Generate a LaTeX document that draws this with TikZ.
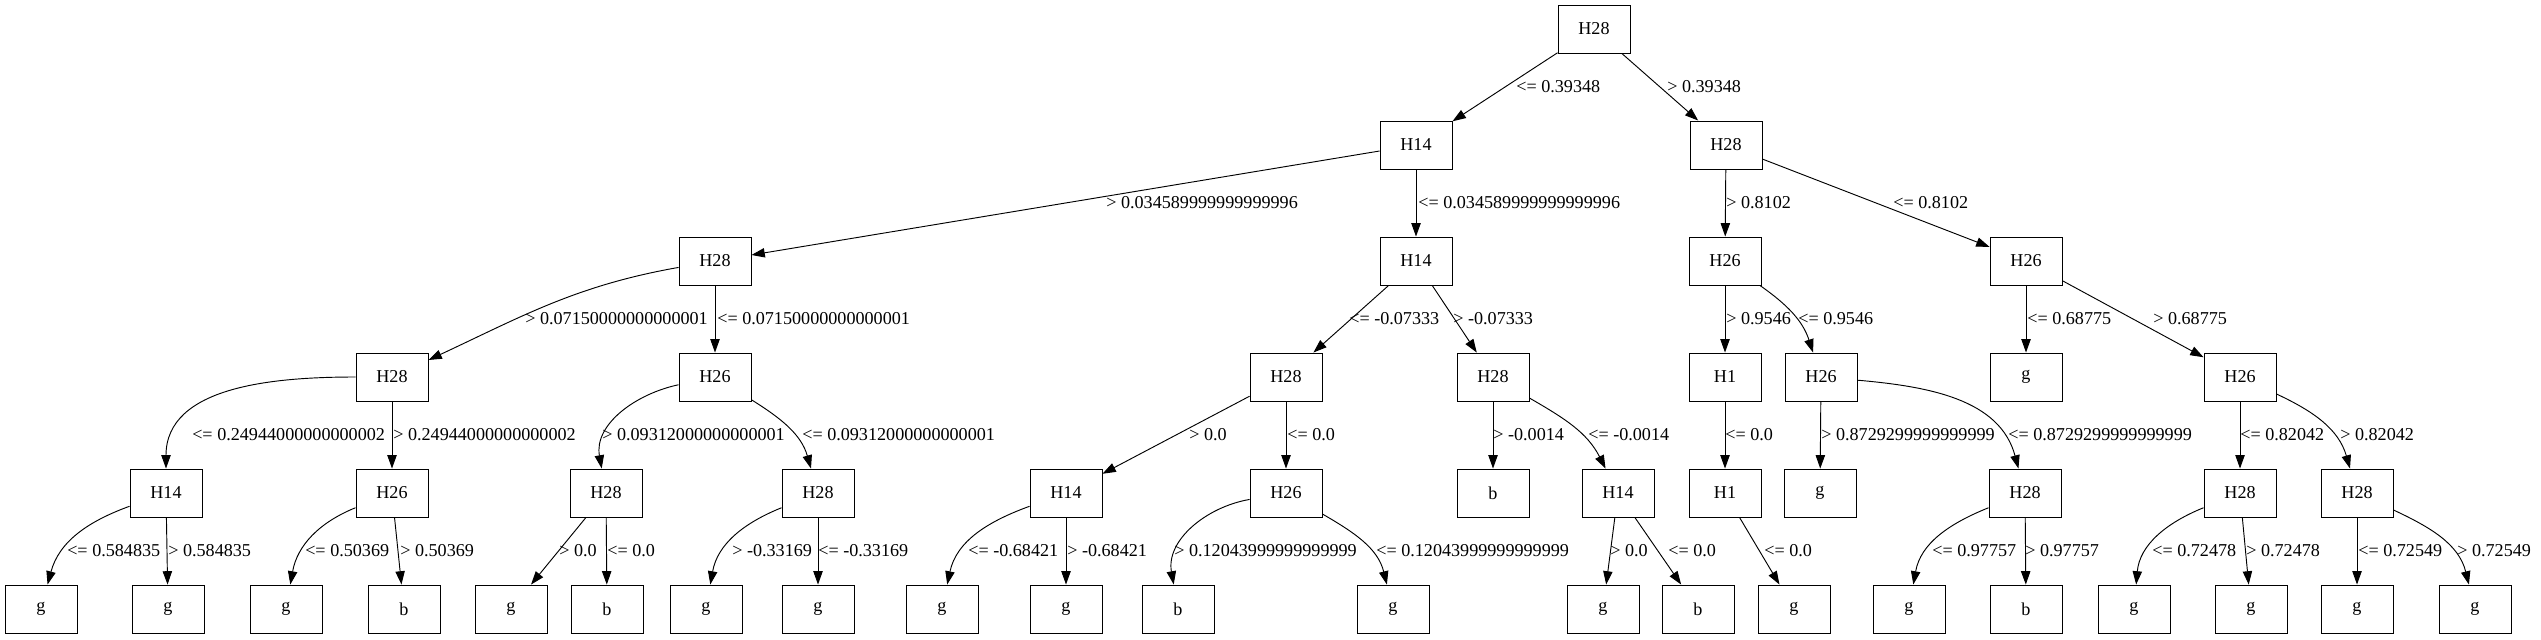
\documentclass[tikz,border=0pt]{standalone}
\usepackage{fontspec}
\setmainfont{Liberation Serif}
\usetikzlibrary{arrows.meta}
\begin{document}
\begin{tikzpicture}[x=0.75pt,y=-0.75pt,
  box/.style={draw,line width=0.7pt,minimum width=54pt,minimum height=36pt,inner sep=0pt,font=\fontsize{13.6}{16}\selectfont},
  lbl/.style={anchor=west,inner sep=0pt,font=\fontsize{13.6}{16}\selectfont},
  edge/.style={line width=0.7pt,-{Triangle[length=10pt,width=7pt]}}]
\fill[white] (0,0) rectangle (2541,639);
\useasboundingbox (0,0) rectangle (2541,639);
% row 0
\node[box] (n0) at (1594,29) {H28};
% row 1
\node[box] (n1) at (1416,145) {H14};
\node[box] (n2) at (1726,145) {H28};
% row 2
\node[box] (n3) at (715,261) {H28};
\node[box] (n4) at (1416,261) {H14};
\node[box] (n5) at (1725,261) {H26};
\node[box] (n6) at (2026,261) {H26};
% row 3
\node[box] (n7) at (392,377) {H28};
\node[box] (n8) at (715,377) {H26};
\node[box] (n9) at (1286,377) {H28};
\node[box] (n10) at (1493,377) {H28};
\node[box] (n11) at (1725,377) {H1};
\node[box] (n12) at (1821,377) {H26};
\node[box] (n13) at (2026,377) {g};
\node[box] (n14) at (2240,377) {H26};
% row 4
\node[box] (n15) at (166,493) {H14};
\node[box] (n16) at (392,493) {H26};
\node[box] (n17) at (606,493) {H28};
\node[box] (n18) at (818,493) {H28};
\node[box] (n19) at (1066,493) {H14};
\node[box] (n20) at (1286,493) {H26};
\node[box] (n21) at (1493,493) {b};
\node[box] (n22) at (1618,493) {H14};
\node[box] (n23) at (1725,493) {H1};
\node[box] (n24) at (1820,493) {g};
\node[box] (n25) at (2025,493) {H28};
\node[box] (n26) at (2240,493) {H28};
\node[box] (n27) at (2357,493) {H28};
% row 5
\node[box] (n28) at (41,609) {g};
\node[box] (n29) at (168,609) {g};
\node[box] (n30) at (286,609) {g};
\node[box] (n31) at (404,609) {b};
\node[box] (n32) at (511,609) {g};
\node[box] (n33) at (607,609) {b};
\node[box] (n34) at (706,609) {g};
\node[box] (n35) at (818,609) {g};
\node[box] (n36) at (942,609) {g};
\node[box] (n37) at (1066,609) {g};
\node[box] (n38) at (1178,609) {b};
\node[box] (n39) at (1393,609) {g};
\node[box] (n40) at (1603,609) {g};
\node[box] (n41) at (1698,609) {b};
\node[box] (n42) at (1794,609) {g};
\node[box] (n43) at (1909,609) {g};
\node[box] (n44) at (2026,609) {b};
\node[box] (n45) at (2134,609) {g};
\node[box] (n46) at (2251,609) {g};
\node[box] (n47) at (2357,609) {g};
\node[box] (n48) at (2475,609) {g};
% edges
\draw[edge] (n0) -- (n1);
\draw[edge] (n0) -- (n2);
\draw[edge] (n1) -- (n3);
\draw[edge] (n1) -- (n4);
\draw[edge] (n2) -- (n5);
\draw[edge] (n2) -- (n6);
\draw[edge] (n3) to[out=190,in=25] (n7);
\draw[edge] (n3) -- (n8);
\draw[edge] (n4) -- (n9);
\draw[edge] (n4) -- (n10);
\draw[edge] (n5) -- (n11);
\draw[edge] (n5) to[out=-35,in=108] (n12);
\draw[edge] (n6) -- (n13);
\draw[edge] (n6) -- (n14);
\draw[edge] (n7) to[out=180,in=90] (n15);
\draw[edge] (n7) -- (n16);
\draw[edge] (n8) to[out=192,in=100] (n17);
\draw[edge] (n8) to[out=-32,in=106] (n18);
\draw[edge] (n9) -- (n19);
\draw[edge] (n9) -- (n20);
\draw[edge] (n10) -- (n21);
\draw[edge] (n10) to[out=-30,in=117] (n22);
\draw[edge] (n11) -- (n23);
\draw[edge] (n12) -- (n24);
\draw[edge] (n12) to[out=-5,in=105] (n25);
\draw[edge] (n14) -- (n26);
\draw[edge] (n14) to[out=-25,in=106] (n27);
\draw[edge] (n15) to[out=200,in=75] (n28);
\draw[edge] (n15) -- (n29);
\draw[edge] (n16) to[out=202,in=80] (n30);
\draw[edge] (n16) -- (n31);
\draw[edge] (n17) -- (n32);
\draw[edge] (n17) -- (n33);
\draw[edge] (n18) to[out=202,in=80] (n34);
\draw[edge] (n18) -- (n35);
\draw[edge] (n19) to[out=200,in=78] (n36);
\draw[edge] (n19) -- (n37);
\draw[edge] (n20) to[out=190,in=100] (n38);
\draw[edge] (n20) to[out=-30,in=104] (n39);
\draw[edge] (n22) -- (n40);
\draw[edge] (n22) -- (n41);
\draw[edge] (n23) -- (n42);
\draw[edge] (n25) to[out=202,in=80] (n43);
\draw[edge] (n25) -- (n44);
\draw[edge] (n26) to[out=202,in=85] (n45);
\draw[edge] (n26) -- (n46);
\draw[edge] (n27) -- (n47);
\draw[edge] (n27) to[out=-25,in=104] (n48);
% labels
\node[lbl] (l1) at (1516,87) {<= 0.39348};
\node[lbl] (l2) at (1667,87) {> 0.39348};
\node[lbl] (l3) at (1106,203) {> 0.034589999999999996};
\node[lbl] (l4) at (1418,203) {<= 0.034589999999999996};
\node[lbl] (l5) at (1726,203) {> 0.8102};
\node[lbl] (l6) at (1893,203) {<= 0.8102};
\node[lbl] (l7) at (525,319) {> 0.07150000000000001};
\node[lbl] (l8) at (717,319) {<= 0.07150000000000001};
\node[lbl] (l9) at (1349,319) {<= -0.07333};
\node[lbl] (l10) at (1453,319) {> -0.07333};
\node[lbl] (l11) at (1726,319) {> 0.9546};
\node[lbl] (l12) at (1798,319) {<= 0.9546};
\node[lbl] (l13) at (2027,319) {<= 0.68775};
\node[lbl] (l14) at (2153,319) {> 0.68775};
\node[lbl] (l15) at (192,435) {<= 0.24944000000000002};
\node[lbl] (l16) at (393,435) {> 0.24944000000000002};
\node[lbl] (l17) at (602,435) {> 0.09312000000000001};
\node[lbl] (l18) at (802,435) {<= 0.09312000000000001};
\node[lbl] (l19) at (1189,435) {> 0.0};
\node[lbl] (l20) at (1287,435) {<= 0.0};
\node[lbl] (l21) at (1493,435) {> -0.0014};
\node[lbl] (l22) at (1588,435) {<= -0.0014};
\node[lbl] (l23) at (1725,435) {<= 0.0};
\node[lbl] (l24) at (1821,435) {> 0.8729299999999999};
\node[lbl] (l25) at (2008,435) {<= 0.8729299999999999};
\node[lbl] (l26) at (2240,435) {<= 0.82042};
\node[lbl] (l27) at (2340,435) {> 0.82042};
\node[lbl] (l28) at (67,551) {<= 0.584835};
\node[lbl] (l29) at (168,551) {> 0.584835};
\node[lbl] (l30) at (305,551) {<= 0.50369};
\node[lbl] (l31) at (400,551) {> 0.50369};
\node[lbl] (l32) at (559,551) {> 0.0};
\node[lbl] (l33) at (607,551) {<= 0.0};
\node[lbl] (l34) at (732,551) {> -0.33169};
\node[lbl] (l35) at (818,551) {<= -0.33169};
\node[lbl] (l36) at (968,551) {<= -0.68421};
\node[lbl] (l37) at (1067,551) {> -0.68421};
\node[lbl] (l38) at (1174,551) {> 0.12043999999999999};
\node[lbl] (l39) at (1376,551) {<= 0.12043999999999999};
\node[lbl] (l40) at (1610,551) {> 0.0};
\node[lbl] (l41) at (1668,551) {<= 0.0};
\node[lbl] (l42) at (1764,551) {<= 0.0};
\node[lbl] (l43) at (1932,551) {<= 0.97757};
\node[lbl] (l44) at (2025,551) {> 0.97757};
\node[lbl] (l45) at (2152,551) {<= 0.72478};
\node[lbl] (l46) at (2246,551) {> 0.72478};
\node[lbl] (l47) at (2358,551) {<= 0.72549};
\node[lbl] (l48) at (2457,551) {> 0.72549};
\end{tikzpicture}
\end{document}
